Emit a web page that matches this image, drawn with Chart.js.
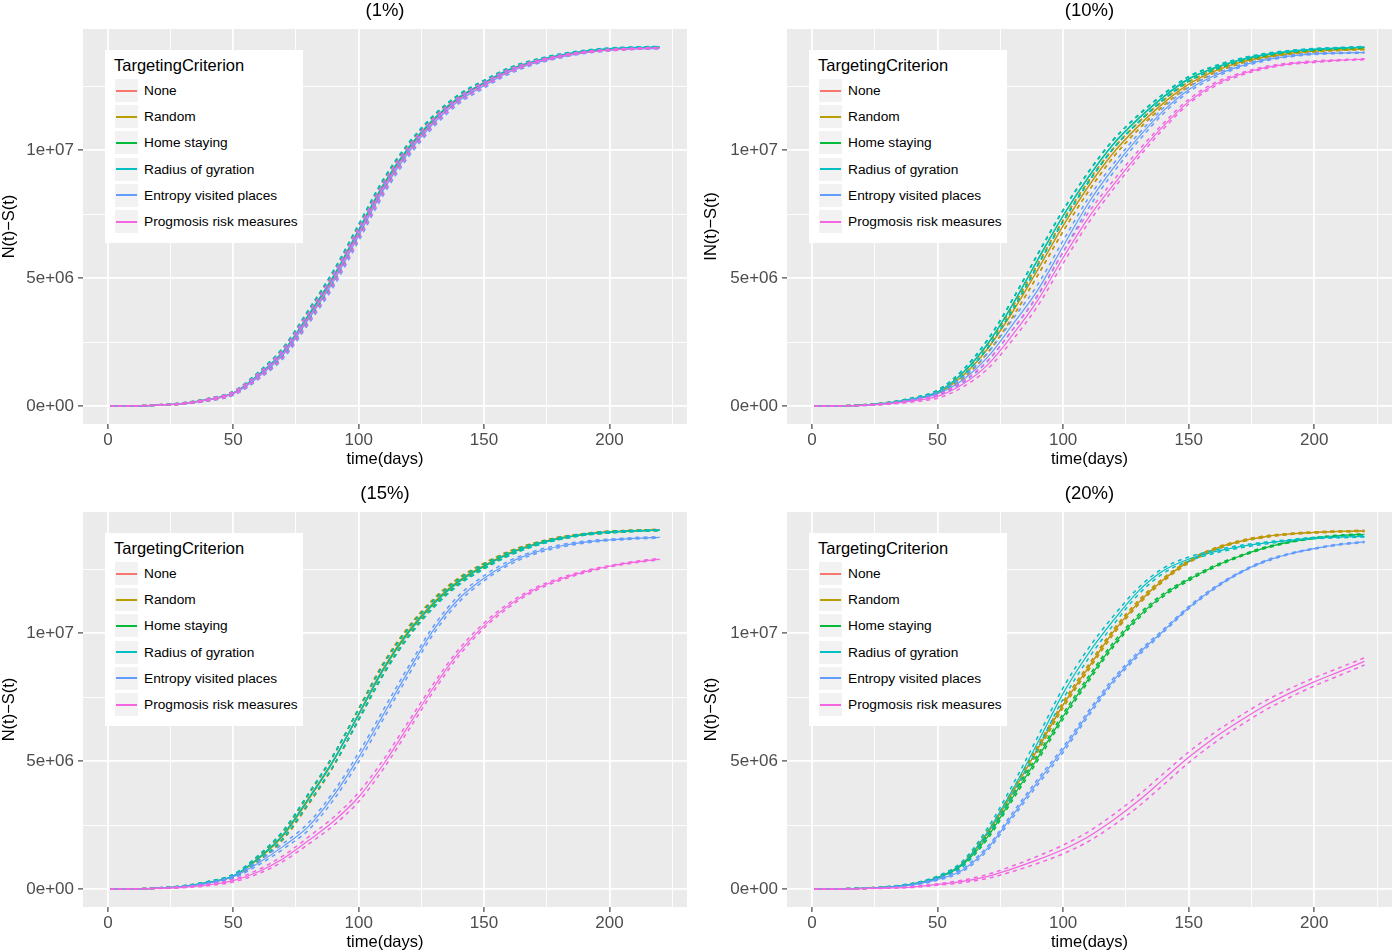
<!DOCTYPE html>
<html>
<head>
<meta charset="utf-8">
<script src="https://cdn.jsdelivr.net/npm/chart.js@4.4.0/dist/chart.umd.min.js"></script>
<style>
body { margin: 0; background: #fff; font-family: 'Liberation Sans', Arial, sans-serif; }
#wrap { position: relative; width: 1392px; height: 952px; overflow: hidden; }
#wrap canvas { position: absolute; }
.ptitle { position: absolute; width: 200px; text-align: center; font-size: 18.5px; line-height: 21px; color: #000; }
.legend { position: absolute; width: 198px; height: 193px; background: #fff; }
.legend .lt { position: absolute; left: 9px; top: 6px; font-size: 16.5px; line-height: 19px; color: #000; }
.legend .row { position: absolute; left: 10px; width: 185px; height: 23px; }
.legend .key { position: absolute; left: 0; top: 0; width: 23px; height: 23px; background: #f2f2f2; }
.legend .key i { position: absolute; left: 1px; right: 1px; top: 10.5px; height: 2px; }
.legend .lab { position: absolute; left: 29px; top: 3px; font-size: 13.7px; line-height: 17px; color: #000; white-space: nowrap; }
</style>
</head>
<body>
<div id="wrap"></div>
<script>
// ───── data (values in millions) ─────
const days = [1,10,20,30,40,50,60,70,80,90,100,110,120,130,140,150,160,170,180,190,200,210,220];

const names  = ['None','Random','Home staying','Radius of gyration','Entropy visited places','Progmosis risk measures'];
const colors = ['#F8766D','#B79F00','#00BA38','#00BFC4','#619CFF','#F564E3'];

const xGrid  = [0,25,50,75,100,125,150,175,200,225];
const xMajor = [0,50,100,150,200];
const yGrid  = [0,2.5,5,7.5,10,12.5];
const yMajor = [0,5,10];
const yLabels = ['0e+00','5e+06','1e+07'];

// (1%)
const p1None    = [0,0.01,0.04,0.10,0.25,0.50,1.19,2.10,3.50,5.00,6.80,8.60,10.05,11.17,12.02,12.60,13.12,13.45,13.68,13.84,13.93,13.98,14.01];
const p1Random  = [0,0.01,0.04,0.10,0.25,0.50,1.20,2.12,3.52,5.03,6.83,8.63,10.07,11.19,12.03,12.61,13.13,13.46,13.69,13.85,13.94,13.99,14.02];
const p1Home    = [0,0.01,0.04,0.11,0.26,0.51,1.22,2.14,3.55,5.07,6.87,8.67,10.10,11.21,12.05,12.63,13.14,13.47,13.70,13.86,13.95,14.00,14.03];
const p1Radius  = [0,0.01,0.04,0.11,0.26,0.52,1.23,2.16,3.58,5.10,6.90,8.70,10.13,11.24,12.08,12.65,13.16,13.49,13.72,13.88,13.97,14.02,14.04];
const p1Entropy = [0,0.01,0.04,0.10,0.24,0.48,1.14,2.02,3.40,4.88,6.66,8.47,9.93,11.06,11.93,12.52,13.05,13.40,13.64,13.81,13.91,13.96,13.98];
const p1Prog    = [0,0.01,0.04,0.10,0.25,0.50,1.18,2.08,3.47,4.97,6.76,8.56,10.01,11.13,11.99,12.58,13.10,13.44,13.67,13.83,13.92,13.97,14.00];
const p1Band    = [0,0,0.01,0.02,0.04,0.06,0.10,0.15,0.19,0.21,0.21,0.20,0.17,0.14,0.11,0.09,0.07,0.05,0.04,0.03,0.03,0.02,0.02];

// (10%)
const p2None    = [0,0.01,0.04,0.11,0.26,0.50,1.18,2.25,3.70,5.35,7.05,8.58,9.90,10.95,11.85,12.58,13.08,13.42,13.64,13.78,13.87,13.92,13.95];
const p2Random  = [0,0.01,0.04,0.11,0.26,0.50,1.18,2.25,3.70,5.35,7.05,8.58,9.90,10.95,11.85,12.58,13.08,13.42,13.64,13.78,13.87,13.92,13.95];
const p2Home    = [0,0.01,0.04,0.12,0.28,0.55,1.29,2.43,3.98,5.73,7.43,8.93,10.23,11.23,12.08,12.78,13.20,13.51,13.72,13.85,13.93,13.98,14.02];
const p2Radius  = [0,0.01,0.04,0.12,0.28,0.55,1.30,2.45,4.00,5.75,7.45,8.95,10.25,11.25,12.10,12.80,13.22,13.53,13.74,13.87,13.95,14.00,14.04];
const p2Entropy = [0,0.01,0.03,0.10,0.24,0.48,1.02,1.92,3.20,4.55,6.25,7.92,9.30,10.50,11.55,12.37,12.90,13.27,13.52,13.68,13.77,13.80,13.82];
const p2Prog    = [0,0.01,0.03,0.09,0.20,0.38,0.85,1.62,2.80,4.15,5.80,7.35,8.65,9.85,10.95,11.90,12.55,12.95,13.22,13.38,13.46,13.52,13.56];
const p2Band    = [0,0,0.01,0.02,0.04,0.07,0.11,0.16,0.20,0.22,0.22,0.20,0.17,0.14,0.11,0.09,0.07,0.05,0.04,0.03,0.03,0.02,0.02];

// (15%)
const p3None    = [0,0.01,0.04,0.10,0.25,0.50,1.18,2.10,3.50,5.02,6.85,8.66,10.10,11.22,12.06,12.65,13.14,13.48,13.72,13.87,13.96,14.01,14.04];
const p3Random  = [0,0.01,0.04,0.10,0.25,0.50,1.18,2.10,3.50,5.02,6.85,8.66,10.10,11.22,12.06,12.65,13.14,13.48,13.72,13.87,13.96,14.01,14.04];
const p3Home    = [0,0.01,0.04,0.11,0.26,0.51,1.21,2.14,3.54,5.04,6.82,8.61,10.05,11.17,12.02,12.62,13.11,13.46,13.70,13.86,13.95,14.00,14.03];
const p3Radius  = [0,0.01,0.04,0.11,0.26,0.52,1.22,2.15,3.55,5.05,6.82,8.60,10.03,11.15,12.00,12.60,13.10,13.45,13.70,13.86,13.95,14.00,14.03];
const p3Entropy = [0,0.01,0.04,0.10,0.23,0.48,1.02,1.68,2.45,3.65,5.15,6.85,8.55,10.15,11.35,12.15,12.75,13.15,13.40,13.56,13.65,13.71,13.75];
const p3Prog    = [0,0.01,0.03,0.07,0.16,0.33,0.68,1.20,1.90,2.65,3.60,4.90,6.40,7.90,9.25,10.30,11.10,11.70,12.10,12.40,12.62,12.78,12.90];
const p3Band    = [0,0,0.01,0.02,0.04,0.06,0.10,0.15,0.19,0.21,0.21,0.20,0.17,0.14,0.11,0.09,0.07,0.05,0.04,0.03,0.03,0.02,0.02];
const p3BandLow = [0,0,0.01,0.02,0.03,0.05,0.08,0.11,0.14,0.16,0.18,0.18,0.17,0.15,0.13,0.10,0.08,0.06,0.05,0.04,0.03,0.03,0.03];

// (20%)
const p4None    = [0,0.01,0.03,0.08,0.20,0.45,1.00,2.20,3.80,5.50,7.20,8.65,10.05,11.20,12.10,12.80,13.28,13.58,13.77,13.88,13.94,13.98,14.00];
const p4Random  = [0,0.01,0.03,0.08,0.20,0.45,1.00,2.20,3.80,5.50,7.20,8.65,10.05,11.20,12.10,12.80,13.28,13.58,13.77,13.88,13.94,13.98,14.00];
const p4Home    = [0,0.01,0.03,0.08,0.19,0.43,0.95,2.05,3.60,5.15,6.75,8.20,9.55,10.65,11.50,12.10,12.60,13.00,13.33,13.56,13.72,13.82,13.87];
const p4Radius  = [0,0.01,0.03,0.08,0.20,0.45,1.00,2.25,3.90,5.75,7.65,9.20,10.50,11.65,12.45,12.90,13.18,13.38,13.52,13.63,13.72,13.76,13.79];
const p4Entropy = [0,0.01,0.03,0.07,0.17,0.38,0.75,1.60,2.90,4.20,5.45,6.85,8.15,9.20,10.10,11.00,11.75,12.35,12.80,13.10,13.31,13.47,13.57];
const p4Prog    = [0,0,0.02,0.04,0.08,0.18,0.30,0.50,0.80,1.15,1.55,2.05,2.70,3.45,4.30,5.15,5.90,6.55,7.15,7.65,8.10,8.50,8.90];
const p4Band    = [0,0,0.01,0.01,0.02,0.04,0.06,0.08,0.10,0.11,0.11,0.10,0.09,0.08,0.06,0.05,0.04,0.03,0.03,0.02,0.02,0.02,0.02];
const p4BandWide = [0,0,0.01,0.02,0.03,0.06,0.10,0.15,0.19,0.22,0.22,0.20,0.17,0.13,0.10,0.08,0.06,0.05,0.04,0.03,0.03,0.03,0.03];
const p4BandProg = [0,0,0,0.01,0.02,0.03,0.05,0.08,0.11,0.14,0.17,0.19,0.21,0.22,0.22,0.21,0.20,0.19,0.18,0.17,0.16,0.15,0.14];

const panels = [
  { title: '(1%)',  ylab: 'N(t)\u2212S(t)',  left: 0,   top: 0,   width: 696, yw: 83, padR: 9,
    means: [p1None,p1Random,p1Home,p1Radius,p1Entropy,p1Prog],
    bands: [p1Band,p1Band,p1Band,p1Band,p1Band,p1Band] },
  { title: '(10%)', ylab: 'IN(t)\u2212S(t)', left: 702, top: 0,   width: 690, yw: 85, padR: 0,
    means: [p2None,p2Random,p2Home,p2Radius,p2Entropy,p2Prog],
    bands: [p2Band,p2Band,p2Band,p2Band,p2Band,p2Band] },
  { title: '(15%)', ylab: 'N(t)\u2212S(t)',  left: 0,   top: 483, width: 696, yw: 83, padR: 9,
    means: [p3None,p3Random,p3Home,p3Radius,p3Entropy,p3Prog],
    bands: [p3Band,p3Band,p3Band,p3Band,p3BandLow,p3BandLow] },
  { title: '(20%)', ylab: 'N(t)\u2212S(t)',  left: 702, top: 483, width: 690, yw: 85, padR: 0,
    means: [p4None,p4Random,p4Home,p4Radius,p4Entropy,p4Prog],
    bands: [p4Band,p4Band,p4Band,p4BandWide,p4Band,p4BandProg] }
];

const CH = 469, PAD_TOP = 29, X_H = 45;

// grey panel background like ggplot
const panelBg = {
  id: 'panelBg',
  beforeDraw(chart) {
    const a = chart.chartArea, c = chart.ctx;
    c.save(); c.fillStyle = '#ebebeb';
    c.fillRect(a.left, a.top, a.right - a.left, a.bottom - a.top);
    c.restore();
  }
};

function buildDatasets(p) {
  const ds = [];
  names.forEach((n, i) => {
    const m = p.means[i], b = p.bands[i];
    const common = { borderColor: colors[i], pointRadius: 0, fill: false, cubicInterpolationMode: 'monotone', order: names.length - i };
    ds.push({ ...common, label: n, borderWidth: 1.2, data: days.map((d, k) => ({ x: d, y: m[k] })) });
    ds.push({ ...common, label: n + ' lo', borderWidth: 1.5, borderDash: [4, 4], data: days.map((d, k) => ({ x: d, y: m[k] - b[k] })) });
    ds.push({ ...common, label: n + ' hi', borderWidth: 1.5, borderDash: [4, 4], data: days.map((d, k) => ({ x: d, y: m[k] + b[k] })) });
  });
  return ds;
}

const wrap = document.getElementById('wrap');
const font = "'Liberation Sans', Arial, sans-serif";

panels.forEach(p => {
  const cv = document.createElement('canvas');
  cv.width = p.width; cv.height = CH;
  cv.style.left = p.left + 'px'; cv.style.top = p.top + 'px';
  wrap.appendChild(cv);

  new Chart(cv, {
    type: 'line',
    data: { datasets: buildDatasets(p) },
    options: {
      responsive: false, animation: false, devicePixelRatio: 1,
      layout: { padding: { top: PAD_TOP, right: p.padR, left: 0, bottom: 0 } },
      plugins: { legend: { display: false }, tooltip: { enabled: false } },
      scales: {
        x: {
          type: 'linear', min: -9.95, max: 230.95,
          afterBuildTicks: s => { s.ticks = xGrid.map(v => ({ value: v })); },
          afterFit: s => { s.height = X_H; },
          border: { display: false },
          grid: {
            color: '#ffffff',
            lineWidth: c => xMajor.includes(c.tick.value) ? 1.8 : 0.9,
            tickLength: 5, tickWidth: 1.1,
            tickColor: c => xMajor.includes(c.tick.value) ? '#333333' : 'rgba(0,0,0,0)'
          },
          ticks: {
            autoSkip: false, maxRotation: 0, padding: 1, color: '#4d4d4d',
            font: { family: font, size: 17 },
            callback: v => xMajor.includes(v) ? String(v) : ''
          },
          title: { display: true, text: 'time(days)', color: '#000', padding: 0, font: { family: font, size: 16.5 } }
        },
        y: {
          type: 'linear', min: -0.7, max: 14.74,
          afterBuildTicks: s => { s.ticks = yGrid.map(v => ({ value: v })); },
          afterFit: s => { s.width = p.yw; },
          border: { display: false },
          grid: {
            color: '#ffffff',
            lineWidth: c => yMajor.includes(c.tick.value) ? 1.8 : 0.9,
            tickLength: 5, tickWidth: 1.1,
            tickColor: c => yMajor.includes(c.tick.value) ? '#333333' : 'rgba(0,0,0,0)'
          },
          ticks: {
            autoSkip: false, padding: 4, color: '#4d4d4d',
            font: { family: font, size: 17 },
            callback: v => { const k = yMajor.indexOf(v); return k >= 0 ? yLabels[k] : ''; }
          },
          title: { display: true, text: p.ylab, color: '#000', padding: 0, font: { family: font, size: 16.5 } }
        }
      }
    },
    plugins: [panelBg]
  });

  // plot area in page coords
  const areaLeft = p.left + p.yw, areaRight = p.left + p.width - p.padR;
  const areaTop = p.top + PAD_TOP;

  const t = document.createElement('div');
  t.className = 'ptitle';
  t.textContent = p.title;
  t.style.left = ((areaLeft + areaRight) / 2 - 100) + 'px';
  t.style.top = (p.top - 1) + 'px';
  wrap.appendChild(t);

  const lg = document.createElement('div');
  lg.className = 'legend';
  lg.style.left = (areaLeft + 22) + 'px';
  lg.style.top = (areaTop + 21) + 'px';
  let html = '<div class="lt">TargetingCriterion</div>';
  names.forEach((n, i) => {
    html += '<div class="row" style="top:' + (29 + i * 26.2) + 'px"><div class="key"><i style="background:' + colors[i] + '"></i></div><div class="lab">' + n + '</div></div>';
  });
  lg.innerHTML = html;
  wrap.appendChild(lg);
});
</script>
</body>
</html>
